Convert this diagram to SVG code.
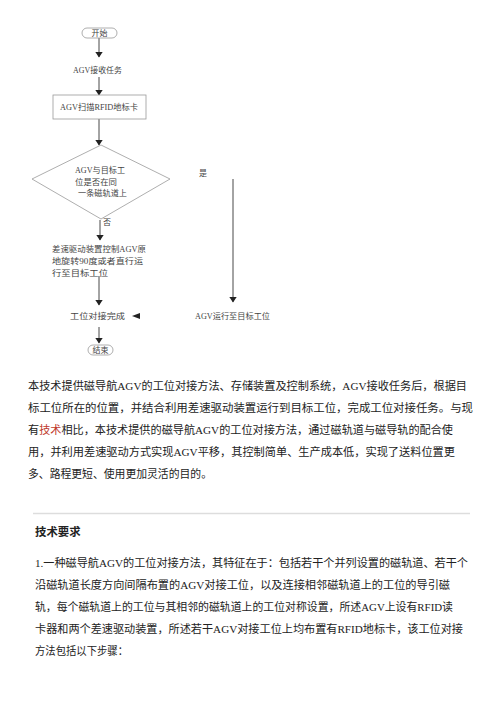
<svg xmlns="http://www.w3.org/2000/svg" width="504" height="713" viewBox="0 0 504 713">
<defs>
<style>
.fc{font-family:"Liberation Serif","Noto Sans CJK SC",serif;font-size:8px;fill:#444}
.sh{fill:#fff;stroke:#999;stroke-width:0.8}
.ln{stroke:#333;stroke-width:0.9;fill:none}
.body{font-family:"Liberation Serif","Noto Sans CJK SC",serif;font-size:11.4px;fill:#222}
.red{fill:#c0392b}
.h{font-weight:bold}
</style>
<marker id="ah" markerWidth="6" markerHeight="8" refX="5.5" refY="4" orient="auto" markerUnits="userSpaceOnUse">
<path d="M0,0 L6,4 L0,8 Z" fill="#222"/>
</marker>
</defs>
<rect width="504" height="713" fill="#fff"/>
<g id="connectors">
<line class="ln" x1="99" y1="38" x2="99" y2="57" marker-end="url(#ah)"/>
<line class="ln" x1="99" y1="77" x2="99" y2="95" marker-end="url(#ah)"/>
<line class="ln" x1="99" y1="119" x2="99" y2="145" marker-end="url(#ah)"/>
<line class="ln" x1="100" y1="220" x2="100" y2="240" marker-end="url(#ah)"/>
<line class="ln" x1="99" y1="276" x2="99" y2="305" marker-end="url(#ah)"/>
<line class="ln" x1="99" y1="327" x2="99" y2="343" marker-end="url(#ah)"/>
<line class="ln" x1="233" y1="179" x2="233" y2="302" marker-end="url(#ah)"/>
<path d="M132,316 L140,313 L140,319 Z" fill="#222"/>
<text class="fc" x="203" y="176" text-anchor="middle">是</text>
<text class="fc" x="107" y="225" text-anchor="middle">否</text>
</g>
<g id="start">
<rect class="sh" x="82" y="28" width="35" height="10" rx="5"/>
<text class="fc" x="99.5" y="36" text-anchor="middle">开始</text>
</g>
<g id="receive">
<text class="fc" x="73" y="73" textLength="49" lengthAdjust="spacingAndGlyphs">AGV接收任务</text>
</g>
<g id="scan">
<rect class="sh" x="53" y="95" width="93" height="24"/>
<text class="fc" x="60" y="110" textLength="78" lengthAdjust="spacingAndGlyphs">AGV扫描RFID地标卡</text>
</g>
<g id="decision">
<polygon class="sh" points="101,145 170,179 101,219 32,179"/>
<text class="fc" x="75" y="173" textLength="50" lengthAdjust="spacingAndGlyphs">AGV与目标工</text>
<text class="fc" x="75" y="185" textLength="42" lengthAdjust="spacingAndGlyphs">位是否在同</text>
<text class="fc" x="78" y="196" textLength="49" lengthAdjust="spacingAndGlyphs">一条磁轨道上</text>
</g>
<g id="diffdrive">
<text class="fc" x="52" y="252" textLength="94" lengthAdjust="spacingAndGlyphs">差速驱动装置控制AGV原</text>
<text class="fc" x="52" y="264" textLength="91" lengthAdjust="spacingAndGlyphs">地旋转90度或者直行运</text>
<text class="fc" x="52" y="276" textLength="56" lengthAdjust="spacingAndGlyphs">行至目标工位</text>
</g>
<g id="runto">
<text class="fc" x="195" y="319" textLength="75" lengthAdjust="spacingAndGlyphs">AGV运行至目标工位</text>
</g>
<g id="done">
<text class="fc" x="70" y="319" textLength="55" lengthAdjust="spacingAndGlyphs">工位对接完成</text>
</g>
<g id="end">
<rect class="sh" x="88" y="345" width="25" height="10" rx="5"/>
<text class="fc" x="100.5" y="353" text-anchor="middle">结束</text>
</g>
<g id="paragraph">
<text class="body" x="28" y="390" textLength="439" lengthAdjust="spacingAndGlyphs">本技术提供磁导航AGV的工位对接方法、存储装置及控制系统，AGV接收任务后，根据目</text>
<text class="body" x="28" y="412" textLength="445" lengthAdjust="spacingAndGlyphs">标工位所在的位置，并结合利用差速驱动装置运行到目标工位，完成工位对接任务。与现</text>
<text class="body" x="28" y="434" textLength="425" lengthAdjust="spacingAndGlyphs">有<tspan class="red">技术</tspan>相比，本技术提供的磁导航AGV的工位对接方法，通过磁轨道与磁导轨的配合使</text>
<text class="body" x="28" y="456" textLength="427" lengthAdjust="spacingAndGlyphs">用，并利用差速驱动方式实现AGV平移，其控制简单、生产成本低，实现了送料位置更</text>
<text class="body" x="28" y="478" textLength="184" lengthAdjust="spacingAndGlyphs">多、路程更短、使用更加灵活的目的。</text>
</g>
<line x1="33" y1="513.5" x2="470" y2="513.5" stroke="#dddddd" stroke-width="1.6"/>
<g id="claims">
<text class="body h" x="35" y="536">技术要求</text>
<text class="body" x="35" y="567" textLength="433" lengthAdjust="spacingAndGlyphs">1.一种磁导航AGV的工位对接方法，其特征在于：包括若干个并列设置的磁轨道、若干个</text>
<text class="body" x="35" y="589" textLength="415" lengthAdjust="spacingAndGlyphs">沿磁轨道长度方向间隔布置的AGV对接工位，以及连接相邻磁轨道上的工位的导引磁</text>
<text class="body" x="35" y="611" textLength="418" lengthAdjust="spacingAndGlyphs">轨，每个磁轨道上的工位与其相邻的磁轨道上的工位对称设置，所述AGV上设有RFID读</text>
<text class="body" x="35" y="633" textLength="428" lengthAdjust="spacingAndGlyphs">卡器和两个差速驱动装置，所述若干AGV对接工位上均布置有RFID地标卡，该工位对接</text>
<text class="body" x="35" y="655" textLength="93" lengthAdjust="spacingAndGlyphs">方法包括以下步骤：</text>
</g>
</svg>
